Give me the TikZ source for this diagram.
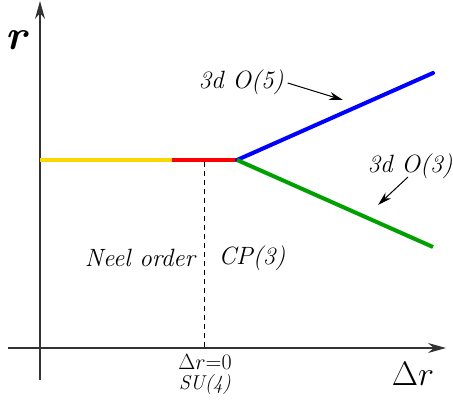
\documentclass[tikz,border=0pt]{standalone}
\usepackage{fix-cm}
\usepackage{amsmath,amssymb}
\usetikzlibrary{arrows.meta,positioning,calc}
\definecolor{gold}{HTML}{FFD500}
\definecolor{red}{HTML}{FF0000}
\definecolor{blue}{HTML}{0000FF}
\definecolor{green}{HTML}{00A000}
\definecolor{axis}{HTML}{333333}

\begin{document}
\begin{tikzpicture}[x=1pt,y=-1pt,
  lbl/.style={inner sep=0pt,font=\fontsize{25}{25}\selectfont\itshape},
  small/.style={inner sep=0pt,font=\fontsize{20}{20}\selectfont\itshape},
  phase/.style={line width=4pt},
  ptr/.style={-{Stealth[length=14pt,width=8pt]},line width=1pt}]
\useasboundingbox (0,0) rectangle (453,401);
% axes
\coordinate (o0) at (40,380);
\coordinate (ytop) at (40,1);
\coordinate (x0) at (8,348);
\coordinate (xend) at (446,348);
\draw[axis,line width=1.3pt,-{Stealth[length=18pt,width=10pt]}] (o0)--(ytop);
\draw[axis,line width=1.3pt,-{Stealth[length=18pt,width=10pt]}] (x0)--(xend);
\node[inner sep=0pt,font=\fontsize{42}{42}\selectfont\bfseries] (r) at (17,40) {\textit{r}};
\node[inner sep=0pt,font=\fontsize{34}{34}\selectfont] (dr) at (413,374) {$\Delta r$};
% phase lines
\coordinate (a) at (40,160);
\coordinate (b) at (172,160);
\coordinate (c) at (237,160);
\coordinate (up) at (433,73);
\coordinate (dn) at (433,247);
\draw[phase,gold] (a)--(b);
\draw[phase,red] (b)--(c);
\draw[phase,blue,line cap=round] (c)--(up);
\draw[phase,green] (c)--(dn);
% critical point
\coordinate (cp) at (204,162);
\coordinate (cpb) at (204,348);
\draw[dashed,line width=0.8pt,dash pattern=on 5pt off 4pt] (cp)--(cpb);
\node[inner sep=0pt,font=\fontsize{22}{22}\selectfont] (zero) at (205,362) {$\Delta r$=0};
\node[small] (su) at (205,385) {SU(4)};
\node[lbl] (neel) at (140,258) {Neel order};
\node[lbl] (cp3) at (252,258) {CP(3)};
% labels of the branches
\node[lbl] (o5) at (241,82) {3d O(5)};
\node[lbl] (o3) at (410,166) {3d O(3)};
\coordinate (o5tip) at (343,100);
\coordinate (o3tip) at (378,205);
\draw[ptr] (o5.east)++(4,1) coordinate (o5s) (o5s)--(o5tip);
\draw[ptr] (408,177) coordinate (o3s) (o3s)--(o3tip);
\end{tikzpicture}
\end{document}
